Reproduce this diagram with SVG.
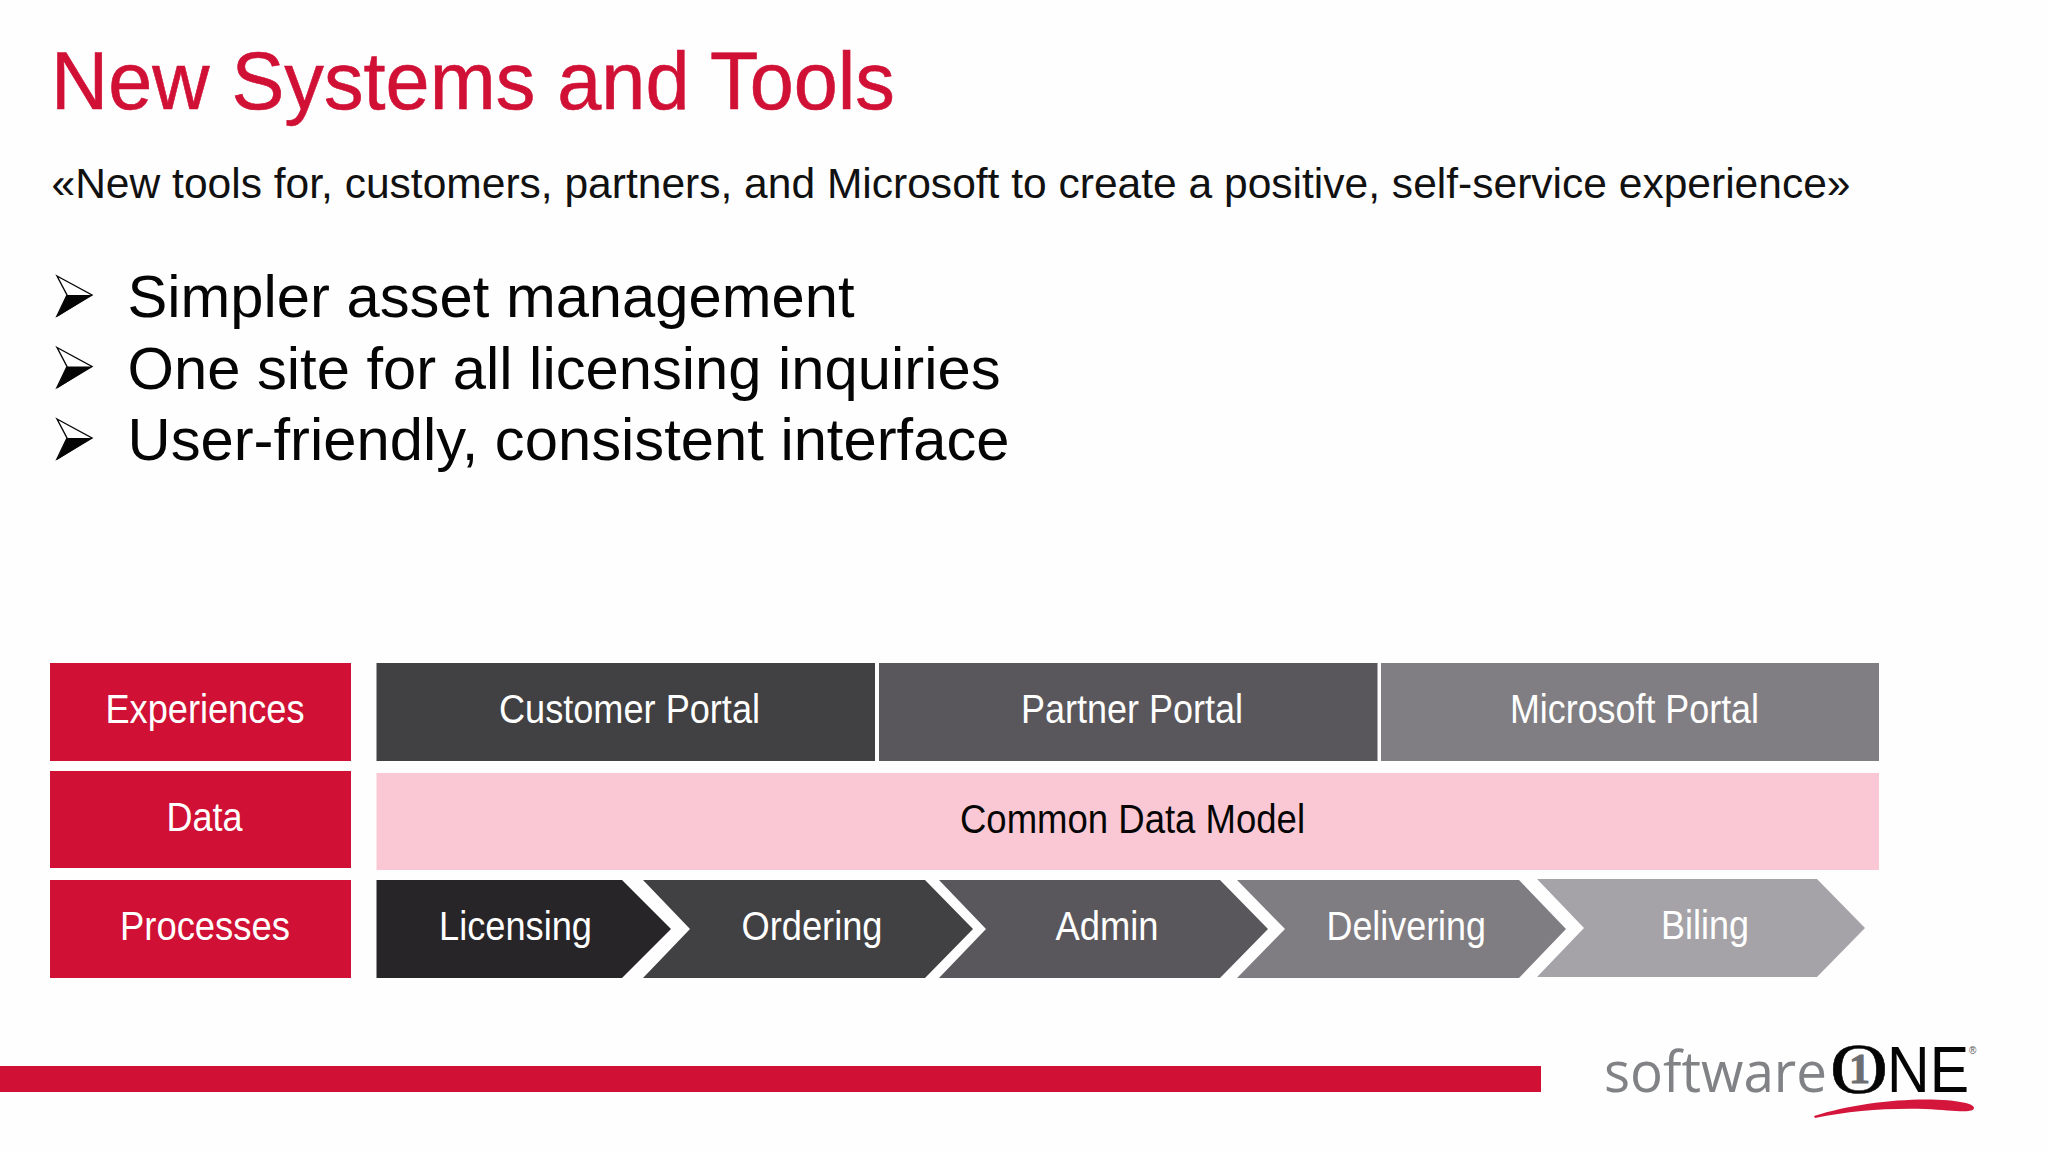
<svg xmlns="http://www.w3.org/2000/svg" width="2048" height="1152" viewBox="0 0 2048 1152">
<style>
text{font-family:"Liberation Sans",Arial,sans-serif}
.l{font-size:40px;fill:#fff;text-anchor:start}
.b{font-size:60px;fill:#050505}
.red{fill:#d01035}
.ar{fill:#fff;stroke:#050505;stroke-width:1.4;stroke-linejoin:miter}
</style>
<defs>
<g id="arrow">
<path class="ar" d="M57 276 92 295 57 316 67 295Z"/>
<path fill="#050505" d="M67 295H92L57 317Z"/>
</g>
</defs>
<rect width="2048" height="1152" fill="#fefefe"/>
<text id="title" x="51" y="109" font-size="82" fill="#d01035" stroke="#d01035" stroke-width="0.6" textLength="844" lengthAdjust="spacingAndGlyphs">New Systems and Tools</text>
<text id="subtitle" x="51.500" y="198" font-size="42" fill="#111" textLength="1799" lengthAdjust="spacingAndGlyphs">«New tools for, customers, partners, and Microsoft to create a positive, self-service experience»</text>
<g id="bullets">
<use href="#arrow"/>
<text class="b" x="127.500" y="317" textLength="727" lengthAdjust="spacingAndGlyphs">Simpler asset management</text>
<use href="#arrow" y="71.5"/>
<text class="b" x="127.500" y="388.500" textLength="873" lengthAdjust="spacingAndGlyphs">One site for all licensing inquiries</text>
<use href="#arrow" y="143"/>
<text class="b" x="127.500" y="460" textLength="882" lengthAdjust="spacingAndGlyphs">User-friendly, consistent interface</text>
</g>
<g id="experiences"><rect class="red" x="50" y="663" width="301" height="98"/><text class="l" x="105.500" y="723" textLength="199" lengthAdjust="spacingAndGlyphs">Experiences</text></g>
<g id="data"><rect class="red" x="50" y="771" width="301" height="97"/><text class="l" x="166.500" y="831" textLength="76" lengthAdjust="spacingAndGlyphs">Data</text></g>
<g id="processes"><rect class="red" x="50" y="880" width="301" height="98"/><text class="l" x="120" y="940" textLength="170" lengthAdjust="spacingAndGlyphs">Processes</text></g>
<g id="customer-portal"><rect x="376.500" y="663" width="498.500" height="98" fill="#414042"/><text class="l" x="499" y="723" textLength="261" lengthAdjust="spacingAndGlyphs">Customer Portal</text></g>
<g id="partner-portal"><rect x="879" y="663" width="498.500" height="98" fill="#59575b"/><text class="l" x="1021" y="723" textLength="222" lengthAdjust="spacingAndGlyphs">Partner Portal</text></g>
<g id="microsoft-portal"><rect x="1381" y="663" width="498" height="98" fill="#807e82"/><text class="l" x="1510" y="723" textLength="249" lengthAdjust="spacingAndGlyphs">Microsoft Portal</text></g>
<g id="common-data-model"><rect x="376.500" y="773" width="1502.500" height="97" fill="#fac8d4"/><text class="l" style="fill:#050505" x="960" y="833" textLength="345" lengthAdjust="spacingAndGlyphs">Common Data Model</text></g>
<g id="licensing"><path d="M376.500 880H622L671 929 622 978H376.500Z" fill="#272528"/><text class="l" x="439" y="940" textLength="153" lengthAdjust="spacingAndGlyphs">Licensing</text></g>
<g id="ordering"><path d="M643 880H925L973 929 925 978H643L690 929Z" fill="#414042"/><text class="l" x="741.500" y="940" textLength="141" lengthAdjust="spacingAndGlyphs">Ordering</text></g>
<g id="admin"><path d="M939 880H1220L1268 929 1220 978H939L986 929Z" fill="#59575b"/><text class="l" x="1055.500" y="940" textLength="103" lengthAdjust="spacingAndGlyphs">Admin</text></g>
<g id="delivering"><path d="M1237 880H1519L1566 929 1519 978H1237L1285 929Z" fill="#7f7d81"/><text class="l" x="1326.500" y="940" textLength="159.500" lengthAdjust="spacingAndGlyphs">Delivering</text></g>
<g id="biling"><path d="M1537 879H1817L1865 928 1817 977H1537L1584 928Z" fill="#a5a3a7"/><text class="l" x="1661" y="939" textLength="88" lengthAdjust="spacingAndGlyphs">Biling</text></g>
<rect id="footer-bar" class="red" x="0" y="1066" width="1541" height="26"/>
<g id="logo">
<text x="1604" y="1092" font-size="56" fill="#808285" style="font-family:'Open Sans',sans-serif" textLength="223" lengthAdjust="spacingAndGlyphs">software</text>
<text x="1830" y="1093" font-size="72" fill="#050505" stroke="#050505" stroke-width="0.6" style="font-family:'Liberation Serif',serif" textLength="58" lengthAdjust="spacingAndGlyphs">O</text>
<text x="1849" y="1083" font-size="42" font-weight="bold" fill="#6d6e71" stroke="#6d6e71" stroke-width="1" style="font-family:'Liberation Serif',serif" textLength="21" lengthAdjust="spacingAndGlyphs">1</text>
<text x="1887" y="1092" font-size="64" fill="#050505" textLength="82" lengthAdjust="spacingAndGlyphs">NE</text>
<text x="1969" y="1054" font-size="10" fill="#555">®</text>
<path d="M1814 1116C1860 1101 1930 1095 1966 1103Q1977 1106 1973 1110C1965 1113 1950 1110 1925 1109C1885 1108 1850 1111 1815 1118Z" fill="#d4163c"/>
</g>
</svg>
